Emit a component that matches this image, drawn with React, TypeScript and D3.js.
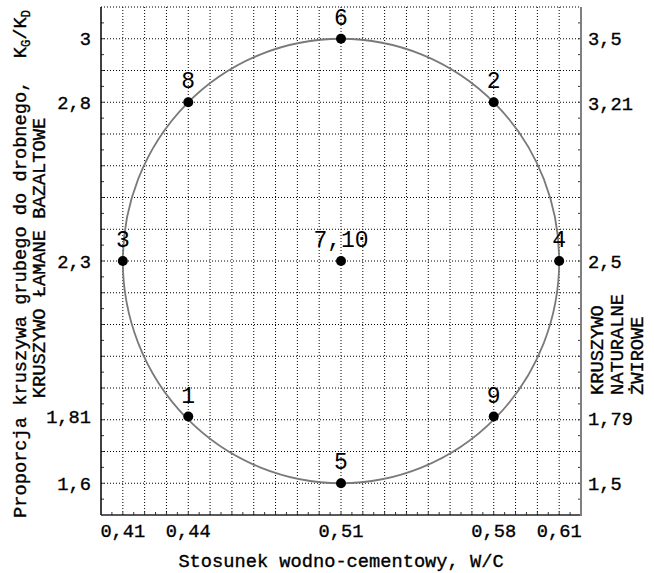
import React from "react";
import * as d3 from "d3";

// Water/cement ratio levels of the design (bottom axis)
const wcTicks = [0.41, 0.44, 0.51, 0.58, 0.61];
// Coarse/fine aggregate ratio, crushed basalt aggregate (left axis)
const basaltTicks = [1.6, 1.81, 2.3, 2.8, 3.0];
// Coarse/fine aggregate ratio, natural gravel aggregate (right axis)
const gravelTicks = [1.5, 1.79, 2.5, 3.21, 3.5];

// Design points: label, W/C, K_G/K_D (basalt scale)
const pointLabels = ["1", "2", "3", "4", "5", "6", "7,10", "8", "9"];
const pointWC = [0.44, 0.58, 0.41, 0.61, 0.51, 0.51, 0.51, 0.44, 0.58];
const pointKgKd = [1.81, 2.8, 2.3, 2.3, 1.6, 3.0, 2.3, 2.8, 1.81];

// Design centre and the axial (star) levels the circle passes through
const centreWC = 0.51;
const centreKgKd = 2.3;
const axialWC = 0.61;
const axialKgKd = 3.0;

const W = 654;
const H = 573;
const left = 101;
const right = 581;
const top = 7;
const bottom = 515;

const MONO = "'Liberation Mono', 'Courier New', monospace";

const fmt = (v: number) => String(v).replace(".", ",");

// shared style for axis texts (slightly heavier strokes)
const axisText = {
  fontFamily: MONO,
  fontSize: 18.7,
  fill: "#000",
  stroke: "#000",
  strokeWidth: 0.35,
};

export default function App() {
  const x = d3.scaleLinear().domain([0.4, 0.62]).range([left, right]);
  const yL = d3.scaleLinear().domain([1.5, 3.1]).range([bottom, top]);
  const yR = d3
    .scaleLinear()
    .domain([2.5 - 0.8 / 0.7, 2.5 + 0.8 / 0.7])
    .range([bottom, top]);

  const vGrid = d3.range(41, 62).map((v) => v / 100);
  const hGrid = d3.range(16, 31).map((v) => v / 10);
  const vMinor = d3.range(81, 124).map((v) => v / 200);
  const hMinor = d3.range(31, 62).map((v) => v / 20);

  const cx = x(centreWC);
  const cy = yL(centreKgKd);
  const rx = x(axialWC) - x(centreWC);
  const ry = yL(centreKgKd) - yL(axialKgKd);

  return (
    <svg
      width={W}
      height={H}
      style={{ position: "absolute", left: 0, top: 0, background: "#fff" }}
    >
      <rect x={0} y={0} width={W} height={H} fill="#fff" />

      {/* dotted grid */}
      <g stroke="#000" strokeWidth={1} strokeDasharray="1,2">
        {vGrid.map((v) => (
          <line key={"v" + v} x1={x(v)} x2={x(v)} y1={top} y2={bottom} />
        ))}
        {hGrid.map((v) => (
          <line key={"h" + v} x1={left} x2={right} y1={yL(v)} y2={yL(v)} />
        ))}
        <line x1={left} x2={right} y1={top} y2={top} />
      </g>

      {/* minor ticks along the frame */}
      <g stroke="#333" strokeWidth={1}>
        {vMinor.map((v) => (
          <line key={"bt" + v} x1={x(v)} x2={x(v)} y1={bottom} y2={bottom - 3} />
        ))}
        {hMinor.map((v) => (
          <line key={"lt" + v} x1={left} x2={left + 3} y1={yL(v)} y2={yL(v)} />
        ))}
        {hMinor.map((v) => (
          <line key={"rt" + v} x1={right} x2={right - 3} y1={yL(v)} y2={yL(v)} />
        ))}
      </g>

      {/* frame */}
      <line x1={left} x2={left} y1={top} y2={bottom} stroke="#000" strokeWidth={1.5} />
      <line x1={left} x2={right} y1={bottom} y2={bottom} stroke="#222" strokeWidth={1.5} />
      <line x1={right} x2={right} y1={top} y2={bottom + 1} stroke="#808080" strokeWidth={2} />

      {/* rotatable design circle */}
      <ellipse cx={cx} cy={cy} rx={rx} ry={ry} fill="none" stroke="#7a7a7a" strokeWidth={1.8} />

      {/* design points */}
      {pointLabels.map((lab, i) => (
        <g key={lab}>
          <circle cx={x(pointWC[i])} cy={yL(pointKgKd[i])} r={5} fill="#000" />
          <text
            x={x(pointWC[i])}
            y={yL(pointKgKd[i]) - 14}
            textAnchor="middle"
            fontFamily={MONO}
            fontSize={23}
            fill="#000"
          >
            {lab}
          </text>
        </g>
      ))}

      {/* bottom tick labels */}
      {wcTicks.map((v) => (
        <text key={"xl" + v} x={x(v)} y={537} textAnchor="middle" {...axisText}>
          {fmt(v)}
        </text>
      ))}

      {/* left tick labels */}
      {basaltTicks.map((v) => (
        <text key={"yl" + v} x={91} y={yL(v)} dy="0.35em" textAnchor="end" {...axisText}>
          {fmt(v)}
        </text>
      ))}

      {/* right tick labels */}
      {gravelTicks.map((v) => (
        <text key={"yr" + v} x={588} y={yR(v)} dy="0.35em" textAnchor="start" {...axisText}>
          {fmt(v)}
        </text>
      ))}

      {/* x axis title */}
      <text x={cx} y={567} textAnchor="middle" {...axisText}>
        Stosunek wodno-cementowy, W/C
      </text>

      {/* left axis titles */}
      <text
        transform="translate(26,264) rotate(-90)"
        textAnchor="middle"
        {...axisText}
        style={{ whiteSpace: "pre" }}
      >
        {"Proporcja kruszywa grubego do drobnego,  K"}
        <tspan fontSize={12} dy={4}>G</tspan>
        <tspan dy={-4}>/K</tspan>
        <tspan fontSize={12} dy={4}>D</tspan>
      </text>
      <text transform="translate(45,258) rotate(-90)" textAnchor="middle" {...axisText}>
        KRUSZYWO ŁAMANE BAZALTOWE
      </text>

      {/* right axis titles */}
      {["KRUSZYWO", "NATURALNE", "ŻWIROWE"].map((t, i) => (
        <text
          key={t}
          transform={`translate(${603 + i * 20},395) rotate(-90)`}
          textAnchor="start"
          {...axisText}
        >
          {t}
        </text>
      ))}
    </svg>
  );
}
